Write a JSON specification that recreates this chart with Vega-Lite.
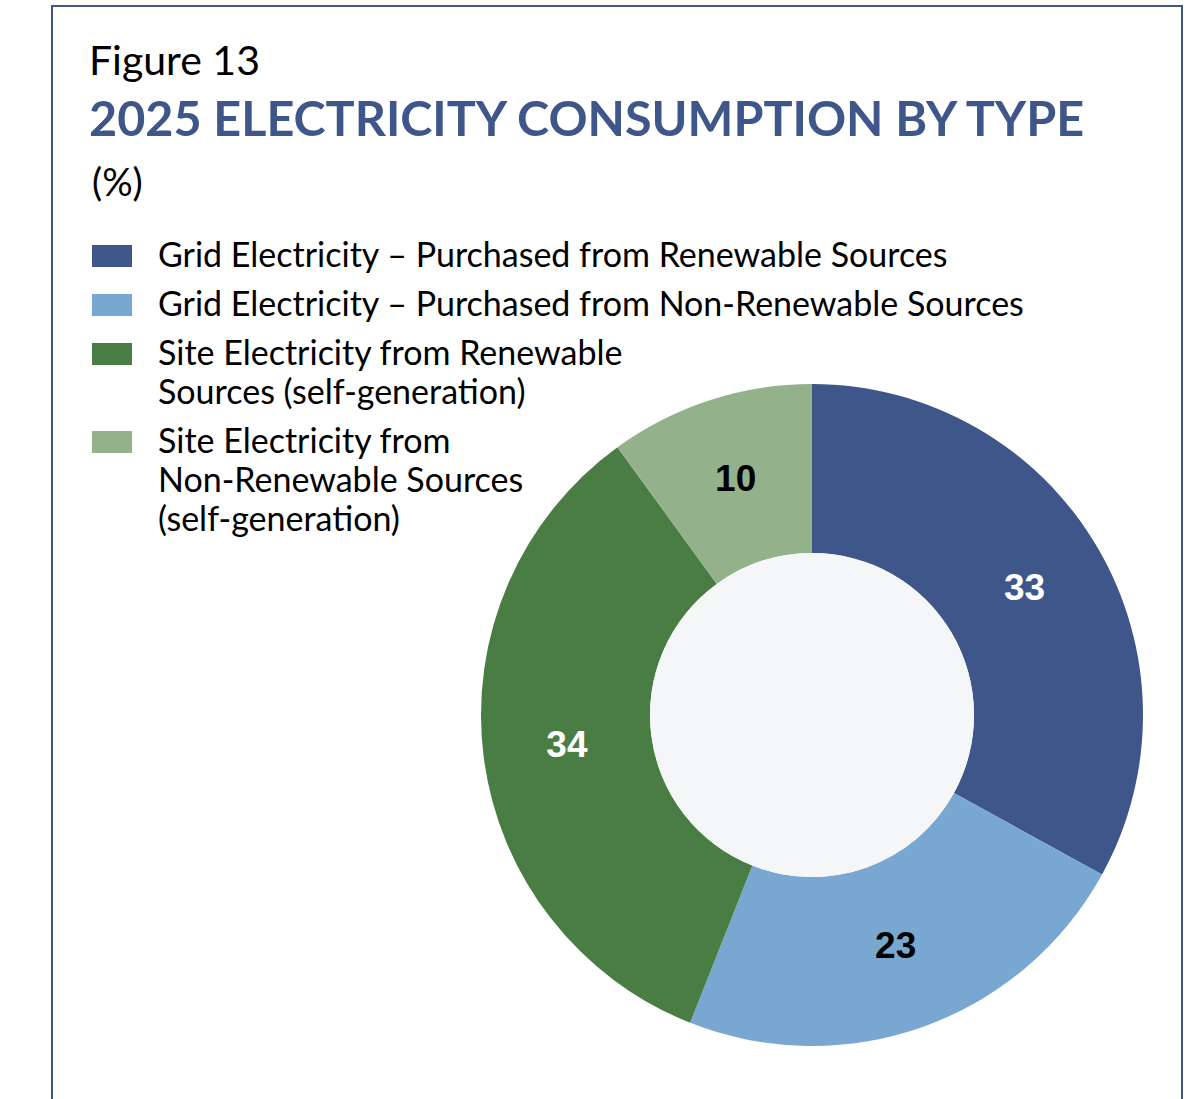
{
  "$schema": "https://vega.github.io/schema/vega-lite/v6.json",
  "width": 1130,
  "height": 1096,
  "autosize": {"type": "none"},
  "padding": {"left": 52, "top": 6, "right": 7, "bottom": 0},
  "background": "white",
  "view": {"stroke": "#3e5689", "strokeWidth": 2, "fill": "white"},
  "config": {
    "view": {"stroke": "#3e5689", "strokeWidth": 2},
    "font": "Lato",
    "style": {"guide-label": {"lineHeight": 39}}
  },
  "title": {
    "text": "Figure 13",
    "subtitle": "2025 ELECTRICITY CONSUMPTION BY TYPE",
    "anchor": "start",
    "frame": "group",
    "dx": 37,
    "offset": -140,
    "font": "Lato",
    "fontSize": 41,
    "fontWeight": "normal",
    "color": "black",
    "subtitleFont": "Lato",
    "subtitleFontSize": 48.5,
    "subtitleFontWeight": "bold",
    "subtitleColor": "#3e5689",
    "subtitlePadding": 14
  },
  "data": {
    "values": [
      {"type": "Grid Electricity – Purchased from Renewable Sources", "value": 33, "rank": 1},
      {"type": "Grid Electricity – Purchased from Non-Renewable Sources", "value": 23, "rank": 2},
      {"type": "Site Electricity from Renewable Sources (self-generation)", "value": 34, "rank": 3},
      {"type": "Site Electricity from Non-Renewable Sources (self-generation)", "value": 10, "rank": 4}
    ]
  },
  "layer": [
    {
      "mark": {"type": "arc", "x": 760, "y": 709, "outerRadius": 331, "innerRadius": 162},
      "encoding": {
        "theta": {"field": "value", "type": "quantitative", "stack": true},
        "order": {"field": "rank", "type": "quantitative"},
        "color": {
          "field": "type",
          "type": "nominal",
          "scale": {
            "domain": [
              "Grid Electricity – Purchased from Renewable Sources",
              "Grid Electricity – Purchased from Non-Renewable Sources",
              "Site Electricity from Renewable Sources (self-generation)",
              "Site Electricity from Non-Renewable Sources (self-generation)"
            ],
            "range": ["#3e5689", "#78a8d2", "#4a7d43", "#93b28c"]
          },
          "legend": {
            "orient": "none",
            "legendX": 40,
            "legendY": 160,
            "title": "(%)",
            "titleFont": "Lato",
            "titleFontSize": 38,
            "titleFontWeight": "normal",
            "titleColor": "black",
            "titlePadding": 43,
            "labelFont": "Lato",
            "labelFontSize": 34,
            "labelColor": "black",
            "labelBaseline": "alphabetic",
            "labelLimit": 1000,
            "labelOffset": 26,
            "rowPadding": 15,
            "symbolType": "M-1,-1.1H1V0H-1Z",
            "symbolSize": 1600,
            "symbolStrokeWidth": 0,
            "symbolOpacity": 1,
            "labelExpr": "datum.label == 'Site Electricity from Renewable Sources (self-generation)' ? ['Site Electricity from Renewable', 'Sources (self-generation)'] : datum.label == 'Site Electricity from Non-Renewable Sources (self-generation)' ? ['Site Electricity from', 'Non-Renewable Sources', '(self-generation)'] : datum.label"
          }
        }
      }
    },
    {
      "mark": {"type": "arc", "x": 760, "y": 709, "outerRadius": 162, "innerRadius": 0, "color": "#f5f6f8"},
      "encoding": {
        "theta": {"field": "value", "type": "quantitative", "stack": true},
        "order": {"field": "rank", "type": "quantitative"},
        "detail": {"field": "type", "type": "nominal"}
      }
    },
    {
      "mark": {"type": "text", "x": 760, "y": 709, "radius": 247, "font": "Liberation Sans", "fontWeight": "bold", "fontSize": 37},
      "encoding": {
        "theta": {"field": "value", "type": "quantitative", "stack": true},
        "order": {"field": "rank", "type": "quantitative"},
        "detail": {"field": "type", "type": "nominal"},
        "text": {"field": "value", "type": "quantitative"},
        "color": {"condition": {"test": "datum.value > 30", "value": "white"}, "value": "black"}
      }
    }
  ]
}
